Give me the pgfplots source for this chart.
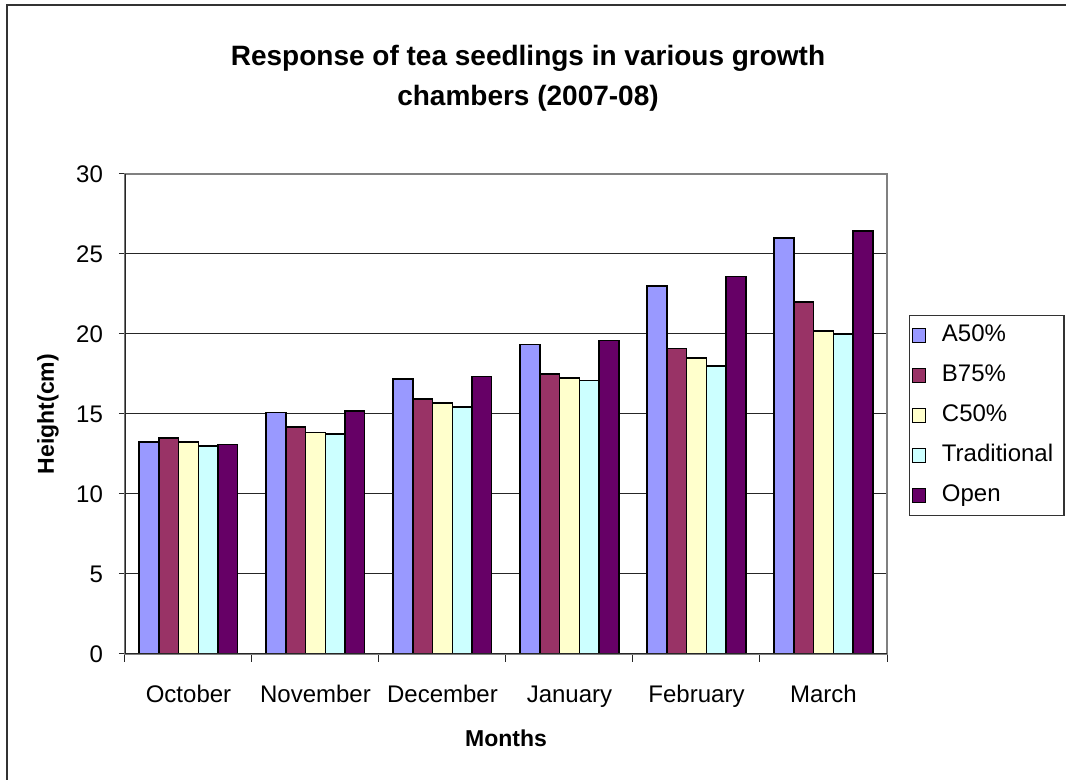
\documentclass[border=0pt]{standalone}
\usepackage{pgfplots}
\pgfplotsset{compat=1.18}
\usepackage{fontspec}
\setmainfont{Liberation Sans}
\definecolor{cA}{HTML}{9999FF}
\definecolor{cB}{HTML}{993366}
\definecolor{cC}{HTML}{FFFFCC}
\definecolor{cT}{HTML}{CCFFFF}
\definecolor{cO}{HTML}{660066}
\begin{document}
\begin{tikzpicture}
\useasboundingbox (-62.5pt,-63pt) rectangle (470.5pt,327pt);
\draw[black!80, line width=0.7pt] (-59pt,-63pt) -- (-59pt,324.5pt) -- (470.5pt,324.5pt);
\begin{axis}[
  at={(0pt,0pt)}, anchor=south west,
  scale only axis, width=381pt, height=240pt,
  ybar=0pt, bar width=9.85pt,
  xmin=-0.5, xmax=5.5, ymin=0, ymax=30,
  xtick={0,...,5},
  xticklabels={October,November,December,January,February,March},
  minor xtick={-0.5,0.5,...,5.5},
  major x tick style={draw=none},
  minor tick length=3.8pt,
  major tick length=3pt,
  tick align=outside,
  xtick pos=bottom, ytick pos=left,
  ytick={0,5,...,30},
  ymajorgrids,
  major grid style={black!85, line width=0.5pt},
  axis line style={black!50, line width=0.6pt},
  tick style={black!85, line width=0.5pt},
  /pgf/number format/assume math mode=true,
  tick label style={font=\fontsize{12}{14}\selectfont},
  xticklabel style={yshift=-8.5pt, text height=9pt, text depth=2.5pt},
  yticklabel style={xshift=-4.5pt},
  title={Response of tea seedlings in various growth\\chambers (2007-08)},
  title style={at={(axis description cs:0.5289,1.175)}, anchor=center, align=center,
    font=\bfseries\fontsize{14}{20}\selectfont},
  xlabel={Months},
  xlabel style={at={(axis description cs:0.5,-0.175)}, anchor=center, font=\bfseries\fontsize{11.5}{13}\selectfont},
  ylabel={Height(cm)},
  ylabel style={at={(axis description cs:-0.101,0.5)}, anchor=center, font=\bfseries\fontsize{11.5}{13}\selectfont},
  legend image code/.code={\draw[#1, line width=0.6pt] (0.5pt,-3.4pt) rectangle (7.3pt,3.4pt); \path (15pt,0pt);},
  legend cell align=left,
  legend style={at={(axis description cs:1.0289,0.70625)}, anchor=north west,
    draw=black!80, line width=0.6pt, inner xsep=1pt, inner ysep=4.5pt, row sep=9pt,
    font=\fontsize{12}{14}\selectfont,
    nodes={inner sep=0pt, text height=8.5pt, text depth=2.5pt, text width=60pt, align=left}},
  every axis plot/.append style={draw=black, line width=0.75pt},
]
\addplot[fill=cA] coordinates {(0,13.25) (1,15.1) (2,17.2) (3,19.35) (4,23.0) (5,26.0)};
\addplot[fill=cB] coordinates {(0,13.5) (1,14.2) (2,15.95) (3,17.5) (4,19.1) (5,22.0)};
\addplot[fill=cC] coordinates {(0,13.25) (1,13.85) (2,15.7) (3,17.25) (4,18.5) (5,20.2)};
\addplot[fill=cT] coordinates {(0,13.0) (1,13.75) (2,15.45) (3,17.1) (4,18.0) (5,20.0)};
\addplot[fill=cO] coordinates {(0,13.1) (1,15.2) (2,17.35) (3,19.6) (4,23.6) (5,26.45)};
\legend{A50\%,B75\%,C50\%,Traditional,Open}
\draw[black!85, line width=0.6pt] (rel axis cs:0,1) -- (rel axis cs:0,0) -- (rel axis cs:1,0);
\end{axis}
\end{tikzpicture}
\end{document}
